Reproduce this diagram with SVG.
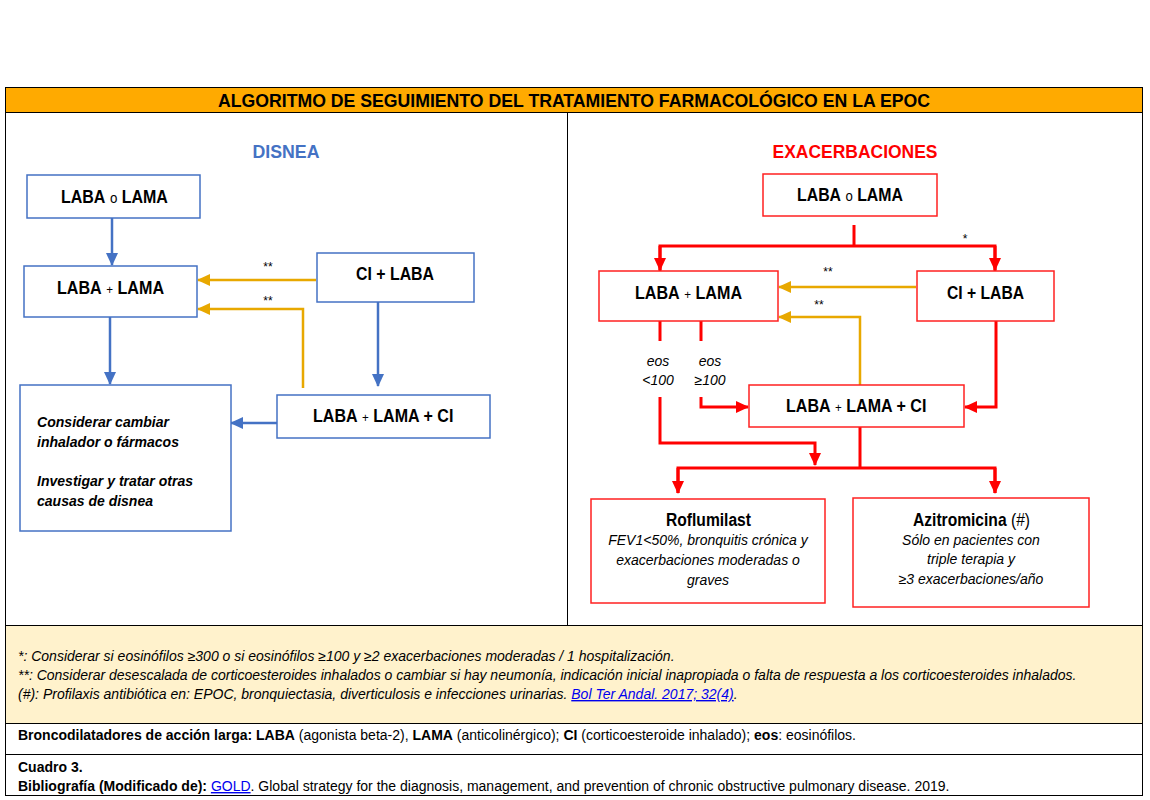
<svg xmlns="http://www.w3.org/2000/svg" width="1150" height="800" viewBox="0 0 1150 800">
<style>
text{font-family:"Liberation Sans",Arial,sans-serif;fill:#000}
.lbl{font-size:18px;font-weight:bold;text-anchor:middle}
.b{font-size:18px;font-weight:bold}
.so{font-size:15px}
.sp{font-size:13px}
.bx{fill:#fff;stroke-width:1.5}
.bb{stroke:#4472C4}
.rb{stroke:#FF2020}
.cb{fill:none;stroke:#4472C4;stroke-width:2.5}
.cr{fill:none;stroke:#FF0000;stroke-width:3}
.co{fill:none;stroke:#E8A800;stroke-width:2.5}
.it{font-style:italic;font-size:15px;font-weight:bold}
.note{font-size:14px;font-style:italic}
.ft{font-size:14px}
.star{font-size:12px;text-anchor:middle}
.lnk{fill:#0000EE;text-decoration:underline}
</style>
<defs>
<marker id="ab" markerUnits="userSpaceOnUse" markerWidth="14" markerHeight="14" viewBox="0 0 14 14" refX="12" refY="7" orient="auto"><path d="M0,1 L13,7 L0,13 Z" fill="#4472C4"/></marker>
<marker id="ar" markerUnits="userSpaceOnUse" markerWidth="14" markerHeight="14" viewBox="0 0 14 14" refX="12" refY="7" orient="auto"><path d="M0,1 L13,7 L0,13 Z" fill="#FF0000"/></marker>
<marker id="ao" markerUnits="userSpaceOnUse" markerWidth="14" markerHeight="14" viewBox="0 0 14 14" refX="12" refY="7" orient="auto"><path d="M0,1 L13,7 L0,13 Z" fill="#E8A800"/></marker>
</defs>

<g id="frame">
<rect x="5.5" y="87.5" width="1137" height="708" fill="#fff" stroke="#000" stroke-width="1"/>
<rect x="5.5" y="87.5" width="1137" height="25" fill="#FFAA00" stroke="#000" stroke-width="1"/>
<text x="574" y="107" textLength="712" lengthAdjust="spacingAndGlyphs" style="font-size:18px;font-weight:bold;text-anchor:middle">ALGORITMO DE SEGUIMIENTO DEL TRATAMIENTO FARMACOLÓGICO EN LA EPOC</text>
<line x1="567.5" y1="112" x2="567.5" y2="625" stroke="#000" stroke-width="1"/>
<rect x="5.5" y="625.5" width="1137" height="98" fill="#FFF2CC" stroke="#000" stroke-width="1"/>
<line x1="5" y1="754.5" x2="1143" y2="754.5" stroke="#000" stroke-width="1"/>
</g>

<text x="286" y="158" textLength="67" lengthAdjust="spacingAndGlyphs" style="font-size:19px;font-weight:bold;text-anchor:middle;fill:#4472C4">DISNEA</text>
<text x="855" y="158" textLength="165" lengthAdjust="spacingAndGlyphs" style="font-size:19px;font-weight:bold;text-anchor:middle;fill:#FF0000">EXACERBACIONES</text>

<g id="connectors">
<line class="cb" x1="112" y1="218" x2="112" y2="265" marker-end="url(#ab)"/>
<line class="cb" x1="110" y1="317" x2="110" y2="384" marker-end="url(#ab)"/>
<line class="cb" x1="378" y1="302" x2="378" y2="386" marker-end="url(#ab)"/>
<line class="cb" x1="277" y1="423" x2="231" y2="423" marker-end="url(#ab)"/>
<line class="co" x1="316" y1="280" x2="198" y2="280" marker-end="url(#ao)"/>
<polyline class="co" points="303,388 303,309 198,309" marker-end="url(#ao)"/>

<line class="cr" x1="854" y1="225" x2="854" y2="246"/>
<polyline class="cr" points="660,271 660,246 995,246 995,271"/>
<line class="cr" x1="660" y1="246" x2="660" y2="270" marker-end="url(#ar)"/>
<line class="cr" x1="995" y1="246" x2="995" y2="270" marker-end="url(#ar)"/>
<line class="co" x1="916" y1="287" x2="779" y2="287" marker-end="url(#ao)"/>
<polyline class="co" points="860,385 860,317 779,317" marker-end="url(#ao)"/>
<line class="cr" x1="660" y1="321" x2="660" y2="341"/>
<line class="cr" x1="701" y1="321" x2="701" y2="341"/>
<polyline class="cr" points="660,397 660,443 815,443 815,465" marker-end="url(#ar)"/>
<polyline class="cr" points="701,397 701,407 748,407" marker-end="url(#ar)"/>
<polyline class="cr" points="996,321 996,407 965,407" marker-end="url(#ar)"/>
<line class="cr" x1="860" y1="427" x2="860" y2="468"/>
<polyline class="cr" points="678,493 678,468 995,468 995,493"/>
<line class="cr" x1="678" y1="468" x2="678" y2="493" marker-end="url(#ar)"/>
<line class="cr" x1="995" y1="468" x2="995" y2="493" marker-end="url(#ar)"/>
</g>

<g id="labels">
<text class="star" x="268" y="271">**</text>
<text class="star" x="268" y="305">**</text>
<text class="star" x="965" y="243">*</text>
<text class="star" x="828" y="276">**</text>
<text class="star" x="819" y="309">**</text>
<text x="658" y="366" style="font-size:14px;font-style:italic;text-anchor:middle">eos</text>
<text x="658" y="385" style="font-size:14px;font-style:italic;text-anchor:middle">&lt;100</text>
<text x="710" y="366" style="font-size:14px;font-style:italic;text-anchor:middle">eos</text>
<text x="710" y="385" style="font-size:14px;font-style:italic;text-anchor:middle">≥100</text>
</g>

<g id="d-laba-o-lama">
<rect class="bx bb" x="27" y="175" width="173" height="43"/>
<g transform="translate(61,203) scale(0.889,1)">
<text class="b" x="0" y="0">LABA</text><text class="so" x="55" y="0">o</text><text class="b" x="68.3" y="0">LAMA</text>
</g>
</g>
<g id="d-laba-lama">
<rect class="bx bb" x="24" y="266" width="173" height="51"/>
<g transform="translate(57,294) scale(0.895,1)">
<text class="b" x="0" y="0">LABA</text><text class="sp" x="55" y="0">+</text><text class="b" x="67.6" y="0">LAMA</text>
</g>
</g>
<g id="d-ci-laba">
<rect class="bx bb" x="317" y="253" width="157" height="49"/>
<text class="lbl" x="395" y="280" textLength="78" lengthAdjust="spacingAndGlyphs">CI + LABA</text>
</g>
<g id="d-triple">
<rect class="bx bb" x="277" y="395" width="213" height="43"/>
<g transform="translate(313,422) scale(0.892,1)">
<text class="b" x="0" y="0">LABA</text><text class="sp" x="55" y="0">+</text><text class="b" x="67.6" y="0">LAMA + CI</text>
</g>
</g>
<g id="d-considerar">
<rect class="bx bb" x="20" y="385" width="211" height="146"/>
<text class="it" x="37" y="427" textLength="132" lengthAdjust="spacingAndGlyphs">Considerar cambiar</text>
<text class="it" x="37" y="447" textLength="142" lengthAdjust="spacingAndGlyphs">inhalador o fármacos</text>
<text class="it" x="37" y="486" textLength="156" lengthAdjust="spacingAndGlyphs">Investigar y tratar otras</text>
<text class="it" x="37" y="506" textLength="116" lengthAdjust="spacingAndGlyphs">causas de disnea</text>
</g>

<g id="e-laba-o-lama">
<rect class="bx rb" x="763" y="174" width="174" height="42"/>
<g transform="translate(797,201) scale(0.881,1)">
<text class="b" x="0" y="0">LABA</text><text class="so" x="55" y="0">o</text><text class="b" x="68.3" y="0">LAMA</text>
</g>
</g>
<g id="e-laba-lama">
<rect class="bx rb" x="599" y="271" width="179" height="50"/>
<g transform="translate(635,299) scale(0.895,1)">
<text class="b" x="0" y="0">LABA</text><text class="sp" x="55" y="0">+</text><text class="b" x="67.6" y="0">LAMA</text>
</g>
</g>
<g id="e-ci-laba">
<rect class="bx rb" x="917" y="271" width="137" height="50"/>
<text class="lbl" x="985.5" y="299" textLength="77" lengthAdjust="spacingAndGlyphs">CI + LABA</text>
</g>
<g id="e-triple">
<rect class="bx rb" x="749" y="385" width="215" height="42"/>
<g transform="translate(786,412) scale(0.892,1)">
<text class="b" x="0" y="0">LABA</text><text class="sp" x="55" y="0">+</text><text class="b" x="67.6" y="0">LAMA + CI</text>
</g>
</g>
<g id="e-roflumilast">
<rect class="bx rb" x="591" y="499" width="234" height="104"/>
<text class="lbl" x="708.5" y="526" textLength="85" lengthAdjust="spacingAndGlyphs">Roflumilast</text>
<text x="708" y="545" style="font-size:14px;font-style:italic;text-anchor:middle">FEV1&lt;50%, bronquitis crónica y</text>
<text x="708" y="565" style="font-size:14px;font-style:italic;text-anchor:middle">exacerbaciones moderadas o</text>
<text x="708" y="585" style="font-size:14px;font-style:italic;text-anchor:middle">graves</text>
</g>
<g id="e-azitromicina">
<rect class="bx rb" x="853" y="498" width="236" height="109"/>
<g transform="translate(913,526) scale(0.867,1)">
<text class="b" x="0" y="0">Azitromicina</text><text x="113" y="0" style="font-size:18px">(#)</text>
</g>
<text x="971" y="545" style="font-size:14px;font-style:italic;text-anchor:middle">Sólo en pacientes con</text>
<text x="971" y="564" style="font-size:14px;font-style:italic;text-anchor:middle">triple terapia y</text>
<text x="971" y="584" style="font-size:14px;font-style:italic;text-anchor:middle">≥3 exacerbaciones/año</text>
</g>

<g id="footer">
<text class="note" x="18" y="661">*: Considerar si eosinófilos ≥300 o si eosinófilos ≥100 y ≥2 exacerbaciones moderadas / 1 hospitalización.</text>
<text class="note" x="18" y="680">**: Considerar desescalada de corticoesteroides inhalados o cambiar si hay neumonía, indicación inicial inapropiada o falta de respuesta a los corticoesteroides inhalados.</text>
<text class="note" x="18" y="699">(#): Profilaxis antibiótica en: EPOC, bronquiectasia, diverticulosis e infecciones urinarias. <tspan class="lnk">Bol Ter Andal. 2017; 32(4)</tspan>.</text>
<text class="ft" x="18" y="740"><tspan font-weight="bold">Broncodilatadores de acción larga: LABA</tspan> (agonista beta-2), <tspan font-weight="bold">LAMA</tspan> (anticolinérgico); <tspan font-weight="bold">CI</tspan> (corticoesteroide inhalado); <tspan font-weight="bold">eos</tspan>: eosinófilos.</text>
<text class="ft" x="18" y="772" font-weight="bold">Cuadro 3.</text>
<text class="ft" x="18" y="791"><tspan font-weight="bold">Bibliografía (Modificado de):</tspan> <tspan class="lnk">GOLD</tspan>. Global strategy for the diagnosis, management, and prevention of chronic obstructive pulmonary disease. 2019.</text>
</g>
</svg>
